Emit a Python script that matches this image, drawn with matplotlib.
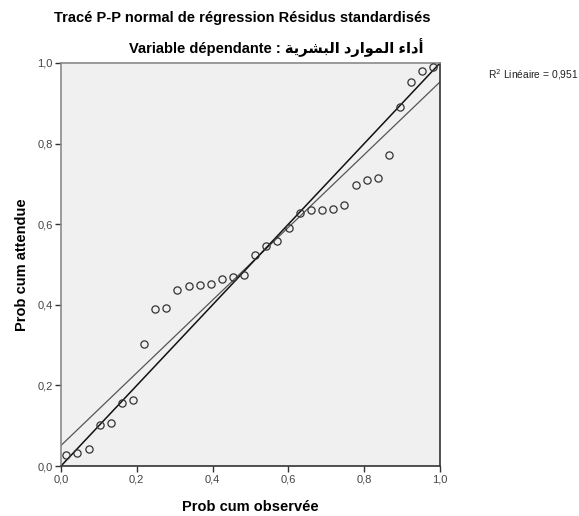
import numpy as np
import matplotlib.pyplot as plt

plt.rcParams['font.family'] = ['Liberation Sans', 'DejaVu Sans']

obs = [0.013, 0.043, 0.073, 0.102, 0.131, 0.161, 0.190, 0.220, 0.249, 0.278,
       0.307, 0.337, 0.366, 0.396, 0.425, 0.454, 0.484, 0.512, 0.542, 0.571,
       0.601, 0.631, 0.660, 0.689, 0.718, 0.748, 0.778, 0.807, 0.836, 0.865,
       0.895, 0.924, 0.953, 0.982]
# expected cumulative probability
exp_ = [0.027, 0.032, 0.042, 0.101, 0.107, 0.157, 0.163, 0.303, 0.390, 0.393,
        0.437, 0.447, 0.449, 0.452, 0.465, 0.468, 0.473, 0.524, 0.546, 0.559,
        0.590, 0.628, 0.635, 0.635, 0.638, 0.647, 0.697, 0.709, 0.714, 0.771,
        0.891, 0.953, 0.980, 0.991]
ticks = [0.0, 0.2, 0.4, 0.6, 0.8, 1.0]
tick_labels = ['0,0', '0,2', '0,4', '0,6', '0,8', '1,0']

title = 'Tracé P-P normal de régression Résidus standardisés'
# arabic part in presentation forms, visual order
arabic = '\uFE94\uFEF3\uFEAE\uFEB8\uFE92\uFEDF\uFE8D \uFEA9\uFEAD\uFE8D\uFEEE\uFEE4\uFEDF\uFE8D \uFE80\uFE8D\uFEA9\uFE83'
subtitle = 'Variable dépendante : ' + arabic

W, H = 579, 516
fig = plt.figure(figsize=(W / 100, H / 100), dpi=100)
ax = fig.add_axes([61 / W, 50 / H, 379 / W, 403 / H])
ax.set_facecolor('#f0f0f0')

x = np.array(obs)
y = np.array(exp_)
slope, icpt = np.polyfit(x, y, 1)
xs = np.array([0.0, 1.0])
ax.plot(xs, icpt + slope * xs, color='#555555', lw=0.9, zorder=2)
ax.plot(xs, xs, color='#111111', lw=1.1, zorder=2)
ax.plot(x, y, 'o', mfc='none', mec='#333333', mew=0.9, ms=5.2, zorder=3, clip_on=False)

ax.set_xlim(0, 1)
ax.set_ylim(0, 1)
ax.set_xticks(ticks)
ax.set_xticklabels(tick_labels)
ax.set_yticks(ticks)
ax.set_yticklabels(tick_labels)
ax.tick_params(direction='out', length=4, width=1, colors='#333333', labelsize=8, pad=2)
ax.tick_params(axis='x', labelcolor='#444444')
ax.tick_params(axis='y', labelcolor='#444444')

for s in ['left', 'top']:
    ax.spines[s].set_color('#8a8a8a')
    ax.spines[s].set_linewidth(1.2)
for s in ['right', 'bottom']:
    ax.spines[s].set_color('#333333')
    ax.spines[s].set_linewidth(1.2)

ax.set_xlabel('Prob cum observée', fontsize=10.5, fontweight='bold', labelpad=11)
ax.set_ylabel('Prob cum attendue', fontsize=10.5, fontweight='bold', labelpad=6)

fig.text(242 / W, 1 - 18 / H, title, ha='center', va='center', fontsize=10.5, fontweight='bold')
fig.text(276 / W, 1 - 48 / H, subtitle, ha='center', va='center', fontsize=10.5, fontweight='bold')

fig.text(488 / W, 1 - 75 / H, 'R$^2$ Linéaire = 0,951', ha='left', va='center', fontsize=7.4, color='#222222')

fig.savefig('out.png', dpi=100)
